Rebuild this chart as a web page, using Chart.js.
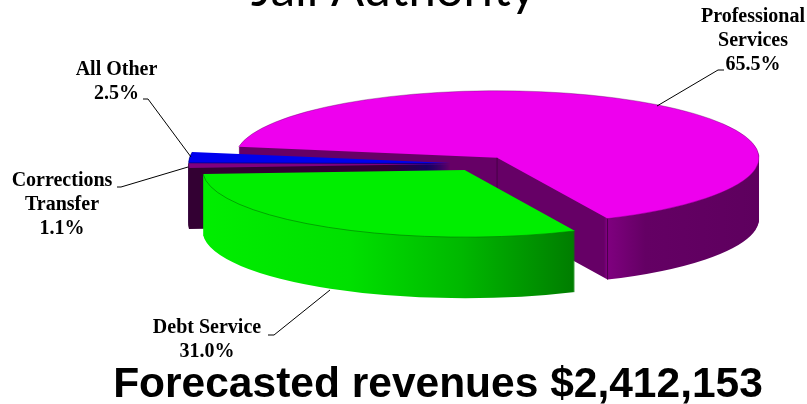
<!DOCTYPE html>
<html>
<head>
<meta charset="utf-8">
<title>Jail Authority</title>
<script src="https://cdn.jsdelivr.net/npm/chart.js@4"></script>
<style>
  html, body { margin: 0; padding: 0; background: #fff; }
  #wrap { width: 807px; height: 404px; overflow: hidden; }
</style>
</head>
<body>
<div id="wrap"><canvas id="myChart" width="807" height="404"></canvas></div>
<script>
var categories = ["Professional Services", "Debt Service", "Corrections Transfer", "All Other"];
var shares = [65.5, 31.0, 1.1, 2.5];
var labelRows = [["Professional", "Services"], ["Debt Service"], ["Corrections", "Transfer"], ["All Other"]];
var topColors = ["#ee00ee", "#00ee00", "#800080", "#0000ee"];
var rimColors = ["rgba(90,0,90,0.45)", "rgba(0,110,0,0.7)", "rgba(50,0,50,0.6)", "rgba(0,0,110,0.6)"];
var titleText = "Jail Authority";
var footerText = "Forecasted revenues $2,412,153";

// look of the tilted pie
var squash = 0.256, depth = 61, explode = 29, radius = 262;
var paintOrder = [0, 3, 2, 1]; // back to front

// wall colours run left to right across the page
var wallStops = [
  [240, 760, [[0, "#660066"], [0.70, "#660066"], [0.705, "#800080"], [0.78, "#640064"], [1, "#5e005e"]]],
  [202, 572, [[0, "#00ee00"], [0.40, "#00e000"], [0.70, "#00b800"], [1, "#007e00"]]],
  [188, 452, [[0, "#330033"], [1, "#330033"]]],
  [188, 452, [[0, "#000080"], [1, "#000080"]]]
];

// text blocks: centre x, first row y, and the leader line next to them
var labelBoxes = [
  { x: 753, y: 17, leader: [[724, 70], [718, 70], [657, 106]] },
  { x: 207, y: 328, leader: [[268, 335], [274, 335], [330, 290]] },
  { x: 62, y: 181, leader: [[117, 187], [121, 187], [188, 167]] },
  { x: 116.5, y: 70, leader: [[143, 99], [148, 99], [191, 157]] }
];

var pie3d = {
  id: "pie3d",
  beforeDatasetsDraw: function (chart) {
    var ctx = chart.ctx;
    var arcs = chart.getDatasetMeta(0).data;
    paintOrder.forEach(function (i) {
      var arc = arcs[i];
      var base = arc.options;
      var mid = (arc.startAngle + arc.endAngle) / 2;
      var tx = Math.cos(mid) * explode;
      var ty = Math.sin(mid) * explode;
      var w = wallStops[i];
      var grad = ctx.createLinearGradient(w[0] - tx, 0, w[1] - tx, 0);
      w[2].forEach(function (s) { grad.addColorStop(s[0], s[1]); });

      function tilt(dz) {
        ctx.translate(tx, arc.y + ty * squash + dz);
        ctx.scale(1, squash);
        ctx.translate(0, -arc.y);
      }
      function layer(dz, opts) {
        ctx.save();
        tilt(dz);
        arc.options = Object.assign({}, base, opts);
        arc.draw(ctx);
        ctx.restore();
      }
      for (var dz = depth; dz > 0; dz--) {
        layer(dz, { backgroundColor: grad, borderWidth: 0 });
      }
      layer(0, { backgroundColor: topColors[i], borderWidth: 0 });
      arc.options = base;

      // thin line round the rim, stroked after the tilt so it keeps its width
      ctx.save();
      tilt(0);
      ctx.beginPath();
      ctx.arc(arc.x, arc.y, arc.outerRadius, arc.startAngle, arc.endAngle);
      ctx.restore();
      ctx.strokeStyle = rimColors[i];
      ctx.lineWidth = 0.8;
      ctx.stroke();

      // wall corners of the big slice
      if (i === 0) {
        var apexX = arc.x + tx, apexY = arc.y + ty * squash;
        var cornerX = apexX + Math.cos(arc.endAngle) * arc.outerRadius;
        var cornerY = apexY + Math.sin(arc.endAngle) * arc.outerRadius * squash;
        ctx.beginPath();
        ctx.moveTo(apexX, apexY);
        ctx.lineTo(apexX, apexY + depth);
        ctx.moveTo(cornerX, cornerY);
        ctx.lineTo(cornerX, cornerY + depth);
        ctx.strokeStyle = "rgba(60,0,60,0.8)";
        ctx.lineWidth = 1;
        ctx.stroke();
      }
    });
    return false;
  },
  afterDraw: function (chart) {
    var ctx = chart.ctx;
    ctx.save();
    ctx.fillStyle = "#000";
    ctx.textAlign = "center";
    ctx.textBaseline = "middle";

    ctx.font = "bold 20px 'Liberation Serif'";
    labelBoxes.forEach(function (box, i) {
      var rows = labelRows[i].concat(shares[i].toFixed(1) + "%");
      rows.forEach(function (row, r) {
        ctx.fillText(row, box.x, box.y + r * 23.7);
      });
      ctx.beginPath();
      ctx.strokeStyle = "#000";
      ctx.lineWidth = 1;
      box.leader.forEach(function (p, k) {
        if (k === 0) ctx.moveTo(p[0], p[1]); else ctx.lineTo(p[0], p[1]);
      });
      ctx.stroke();
    });

    ctx.textBaseline = "alphabetic";
    ctx.font = "49px Lato";
    ctx.fillText(titleText, 393.5, 6);
    ctx.font = "bold 42.5px 'Liberation Sans'";
    ctx.fillText(footerText, 438, 397);
    ctx.restore();
  }
};

new Chart("myChart", {
  type: "pie",
  data: {
    labels: categories,
    datasets: [{
      data: shares,
      backgroundColor: topColors,
      borderWidth: 0,
      radius: radius
    }]
  },
  options: {
    responsive: false,
    animation: false,
    events: [],
    rotation: 279.5,
    // puts the pie centre where the reference has it
    layout: { padding: { left: 152, bottom: 76.6 } },
    plugins: { legend: { display: false }, title: { display: false }, tooltip: { enabled: false } }
  },
  plugins: [pie3d]
});
</script>
</body>
</html>
